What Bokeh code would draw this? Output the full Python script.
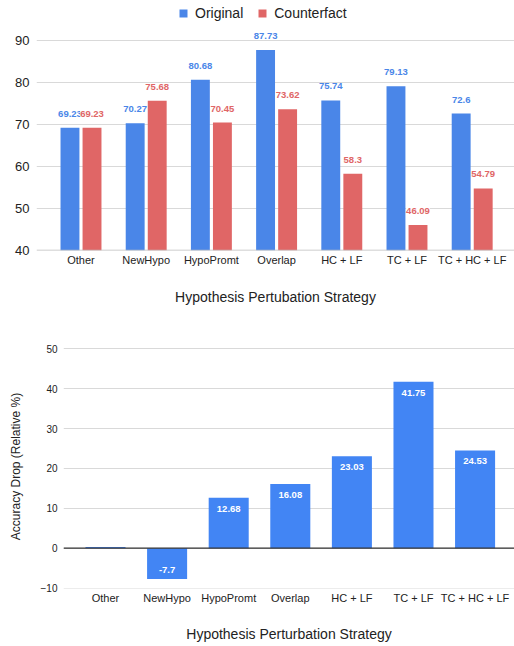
from bokeh.plotting import figure
from bokeh.models import (ColumnDataSource, Range1d, FixedTicker, Legend, LegendItem, Span)
from bokeh.layouts import column
from bokeh.transform import dodge
from bokeh.embed import file_html
from bokeh.resources import INLINE
from bokeh.core.properties import value

categories = ["Other", "NewHypo", "HypoPromt", "Overlap", "HC + LF", "TC + LF", "TC + HC + LF"]
original = [69.23, 70.27, 80.68, 87.73, 75.74, 79.13, 72.6]
counterfact = [69.23, 75.68, 70.45, 73.62, 58.3, 46.09, 54.79]
acc_drop = [0.3, -7.7, 12.68, 16.08, 23.03, 41.75, 24.53]
drop_labels = ["", "-7.7", "12.68", "16.08", "23.03", "41.75", "24.53"]
top_ticks = [40, 50, 60, 70, 80, 90]
bottom_ticks = [-10, 0, 10, 20, 30, 40, 50]

FONT = "Liberation Sans"
BLUE = "#4a86e8"
RED = "#e06666"
BLUE2 = "#4285f4"
GRID = "#d9d9d9"
TXT = "#222222"

idx = list(range(len(categories)))

def fmt(v):
    return ("%.2f" % v).rstrip("0").rstrip(".")

src = ColumnDataSource(dict(
    idx=idx, orig=original, cf=counterfact,
    orig_lbl=[fmt(v) for v in original], cf_lbl=[fmt(v) for v in counterfact]))

def style_axes(p):
    p.outline_line_color = None
    p.xgrid.grid_line_color = None
    p.ygrid.grid_line_color = GRID
    for ax in (p.xaxis, p.yaxis):
        ax.axis_line_color = None
        ax.major_tick_line_color = None
        ax.minor_tick_line_color = None
        ax.major_tick_out = 0
        ax.major_tick_in = 0
        ax.minor_tick_out = 0
        ax.major_label_text_font = FONT
        ax.major_label_text_color = TXT
        ax.axis_label_text_font = FONT
        ax.axis_label_text_font_style = "normal"
        ax.axis_label_text_color = TXT
    if hasattr(p, "frame_align"):
        p.frame_align = False

# ---------------- top chart ----------------
p1 = figure(width=514, height=314, output_backend="svg", toolbar_location=None,
            x_range=Range1d(-0.6825, 6.649), y_range=Range1d(40, 99.52),
            min_border_left=36, min_border_right=0, min_border_top=0, min_border_bottom=64)
style_axes(p1)
p1.yaxis.ticker = FixedTicker(ticks=top_ticks)
p1.xaxis.ticker = FixedTicker(ticks=idx)
p1.xaxis.major_label_overrides = {i: c for i, c in zip(idx, categories)}
p1.yaxis.major_label_text_font_size = "13px"
p1.yaxis.major_label_standoff = 7
p1.xaxis.major_label_text_font_size = "11px"
p1.xaxis.major_label_standoff = 3
p1.xaxis.axis_label = "Hypothesis Pertubation Strategy"
p1.xaxis.axis_label_text_font_size = "14px"
p1.xaxis.axis_label_standoff = 20

r_orig = p1.vbar(x=dodge("idx", -0.169, range=p1.x_range), top="orig", bottom=40, width=0.29,
                 source=src, fill_color=BLUE, line_color=None)
r_cf = p1.vbar(x=dodge("idx", 0.169, range=p1.x_range), top="cf", bottom=40, width=0.29,
               source=src, fill_color=RED, line_color=None)
p1.add_layout(Span(location=p1.y_range.start, dimension="width", line_color="#bdbdbd", line_width=1.5))

p1.text(x=dodge("idx", -0.169, range=p1.x_range), y="orig", text="orig_lbl", source=src,
        text_align="center", text_baseline="middle", y_offset=-14,
        text_font=value(FONT), text_font_size="9.5px", text_font_style="bold", text_color=BLUE)
p1.text(x=dodge("idx", 0.169, range=p1.x_range), y="cf", text="cf_lbl", source=src,
        text_align="center", text_baseline="middle", y_offset=-14,
        text_font=value(FONT), text_font_size="9.5px", text_font_style="bold", text_color=RED,
        background_fill_color="white")

legend = Legend(items=[LegendItem(label="Original", renderers=[r_orig]),
                       LegendItem(label="Counterfact", renderers=[r_cf])],
                orientation="horizontal", location=(142, 229),
                glyph_width=10, glyph_height=10, label_standoff=7, spacing=14,
                padding=0, margin=0, border_line_color=None, background_fill_alpha=0,
                label_text_font=FONT, label_text_font_size="14px", label_text_color=TXT)
p1.add_layout(legend, "center")

# ---------------- bottom chart ----------------
lbl_off = [11 if v >= 0 else -9 for v in acc_drop]
src2 = ColumnDataSource(dict(idx=idx, drop=acc_drop, lbl=drop_labels, off=lbl_off))

p2 = figure(width=514, height=332, output_backend="svg", toolbar_location=None,
            x_range=Range1d(-0.682, 6.64), y_range=Range1d(-10.1, 51.08),
            min_border_left=63, min_border_right=0, min_border_top=30, min_border_bottom=58)
style_axes(p2)
p2.yaxis.ticker = FixedTicker(ticks=bottom_ticks)
p2.xaxis.ticker = FixedTicker(ticks=idx)
p2.xaxis.major_label_overrides = {i: c for i, c in zip(idx, categories)}
p2.yaxis.major_label_text_font_size = "10px"
p2.yaxis.major_label_standoff = 6
p2.yaxis.axis_label = "Accuracy Drop (Relative %)"
p2.yaxis.axis_label_text_font_size = "12px"
p2.yaxis.axis_label_standoff = 15
p2.xaxis.major_label_text_font_size = "11px"
p2.xaxis.major_label_standoff = 3
p2.xaxis.axis_label = "Hypothesis Perturbation Strategy"
p2.xaxis.axis_label_text_font_size = "14px"
p2.xaxis.axis_label_standoff = 19

p2.vbar(x="idx", top="drop", bottom=0, width=0.65, source=src2, fill_color=BLUE2, line_color=None)
p2.add_layout(Span(location=0, dimension="width", line_color="#333333", line_width=1.2))
p2.text(x="idx", y="drop", text="lbl", y_offset="off", source=src2,
        text_align="center", text_baseline="middle",
        text_font=value(FONT), text_font_size="9.5px", text_font_style="bold", text_color="white")

layout = column(p1, p2, spacing=0)
open("out.html", "w").write(file_html(layout, INLINE))
